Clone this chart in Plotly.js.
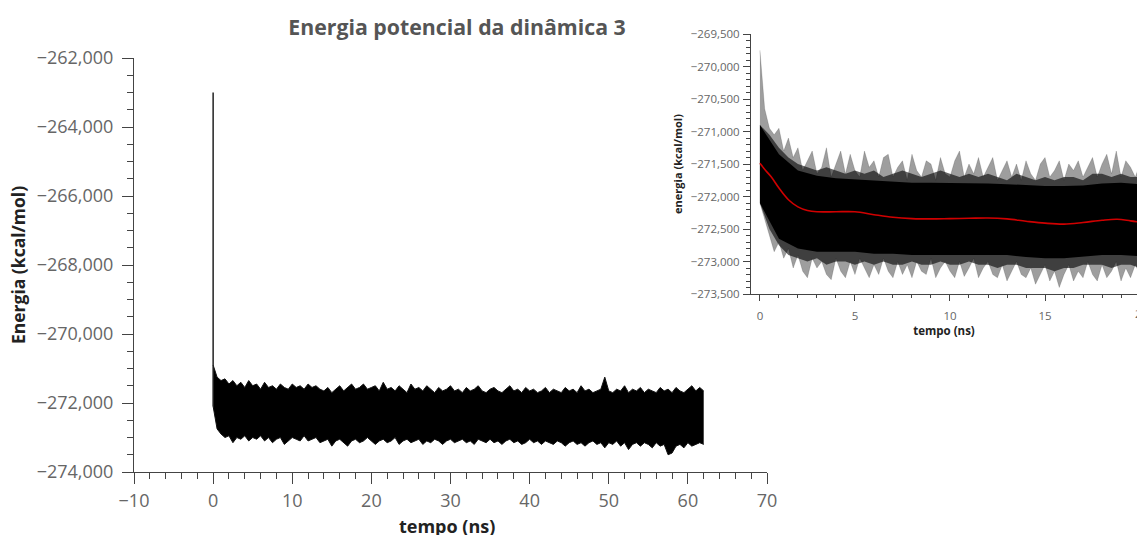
<!DOCTYPE html>
<html>
<head>
<meta charset="utf-8">
<script src="https://cdn.plot.ly/plotly-3.0.1.min.js"></script>
<style>html,body{margin:0;padding:0;background:#fff;}#chart{width:1137px;height:535px;}</style>
</head>
<body>
<div id="chart"></div>
<script>
// ---------- Main plot data (tempo in ns, energia in kcal/mol) ----------
const mainTime = [
  0,0.5,1,1.5,2,2.5,3,3.5,4,4.5,
  5,5.5,6,6.5,7,7.5,8,8.5,9,9.5,
  10,10.5,11,11.5,12,12.5,13,13.5,14,14.5,
  15,15.5,16,16.5,17,17.5,18,18.5,19,19.5,
  20,20.5,21,21.5,22,22.5,23,23.5,24,24.5,
  25,25.5,26,26.5,27,27.5,28,28.5,29,29.5,
  30,30.5,31,31.5,32,32.5,33,33.5,34,34.5,
  35,35.5,36,36.5,37,37.5,38,38.5,39,39.5,
  40,40.5,41,41.5,42,42.5,43,43.5,44,44.5,
  45,45.5,46,46.5,47,47.5,48,48.5,49,49.5,
  50,50.5,51,51.5,52,52.5,53,53.5,54,54.5,
  55,55.5,56,56.5,57,57.5,58,58.5,59,59.5,
  60,60.5,61,61.5,62
];
// upper envelope of the noisy energy band
const mainUpper = [
  -270900,-271250,-271350,-271300,-271450,-271350,-271500,-271400,-271550,-271350,
  -271500,-271450,-271600,-271400,-271550,-271500,-271600,-271450,-271550,-271600,
  -271450,-271550,-271500,-271600,-271450,-271550,-271500,-271600,-271650,-271550,
  -271700,-271600,-271500,-271650,-271550,-271450,-271600,-271550,-271450,-271600,
  -271550,-271500,-271650,-271400,-271600,-271550,-271650,-271500,-271600,-271700,
  -271450,-271600,-271550,-271650,-271500,-271600,-271700,-271550,-271650,-271600,
  -271500,-271650,-271600,-271700,-271550,-271650,-271600,-271500,-271650,-271700,
  -271600,-271550,-271650,-271700,-271600,-271500,-271650,-271600,-271700,-271550,
  -271650,-271600,-271700,-271650,-271550,-271700,-271600,-271650,-271700,-271550,
  -271650,-271600,-271700,-271500,-271650,-271600,-271700,-271650,-271600,-271250,
  -271650,-271700,-271600,-271650,-271500,-271700,-271600,-271650,-271550,-271700,
  -271600,-271650,-271700,-271550,-271650,-271600,-271700,-271550,-271650,-271700,
  -271600,-271500,-271650,-271550,-271650
];
// lower envelope of the noisy energy band
const mainLower = [
  -272100,-272750,-272900,-273000,-272950,-273150,-273000,-273050,-272950,-273100,
  -273000,-273050,-272950,-273100,-273000,-273150,-273050,-273000,-273200,-273100,
  -273000,-273050,-273100,-272950,-273100,-273050,-273000,-273150,-273100,-273050,
  -273250,-273100,-273050,-273150,-273250,-273100,-273050,-273150,-273100,-273000,
  -273100,-273200,-273100,-273050,-273150,-273100,-273000,-273200,-273100,-273050,
  -273150,-273100,-273050,-273200,-273100,-273150,-273050,-273100,-273200,-273100,
  -273050,-273150,-273100,-273050,-273150,-273100,-273200,-273050,-273100,-273150,
  -273050,-273150,-273100,-273200,-273100,-273050,-273150,-273100,-273200,-273150,
  -273050,-273150,-273100,-273200,-273100,-273150,-273200,-273100,-273150,-273250,
  -273150,-273100,-273200,-273150,-273250,-273150,-273100,-273200,-273150,-273300,
  -273150,-273200,-273100,-273250,-273150,-273350,-273200,-273150,-273250,-273150,
  -273200,-273300,-273150,-273250,-273200,-273500,-273450,-273250,-273200,-273300,
  -273150,-273250,-273200,-273150,-273200
];
// initial energy spike at t = 0
const spikeTime = [0, 0];
const spikeEnergy = [-272100, -263000];

// ---------- Inset data (first 20 ns) ----------
const insetTime = [
  0,0.25,0.5,0.75,1,1.25,1.5,1.75,
  2,2.25,2.5,2.75,3,3.25,3.5,3.75,
  4,4.25,4.5,4.75,5,5.25,5.5,5.75,
  6,6.25,6.5,6.75,7,7.25,7.5,7.75,
  8,8.25,8.5,8.75,9,9.25,9.5,9.75,
  10,10.25,10.5,10.75,11,11.25,11.5,11.75,
  12,12.25,12.5,12.75,13,13.25,13.5,13.75,
  14,14.25,14.5,14.75,15,15.25,15.5,15.75,
  16,16.25,16.5,16.75,17,17.25,17.5,17.75,
  18,18.25,18.5,18.75,19,19.25,19.5,19.75,
  20
];
// outer (extreme spikes) upper envelope
const insetUpper = [
  -269750,-270650,-270950,-271050,-270950,-271300,-271100,-271400,
  -271250,-271600,-271450,-271300,-271650,-271550,-271250,-271700,
  -271500,-271300,-271650,-271350,-271600,-271700,-271300,-271550,
  -271450,-271700,-271400,-271350,-271700,-271550,-271450,-271750,
  -271350,-271600,-271700,-271450,-271500,-271750,-271400,-271650,
  -271700,-271450,-271300,-271700,-271500,-271650,-271400,-271700,
  -271550,-271400,-271750,-271600,-271450,-271700,-271500,-271750,
  -271450,-271650,-271750,-271500,-271400,-271700,-271600,-271450,
  -271750,-271500,-271600,-271450,-271700,-271550,-271400,-271700,
  -271500,-271350,-271650,-271300,-271700,-271450,-271550,-271700,
  -271500
];
// outer (extreme spikes) lower envelope
const insetLower = [
  -272100,-272350,-272600,-272850,-272700,-272950,-272800,-273100,
  -272900,-273150,-273250,-272950,-273100,-273000,-273200,-273280,
  -272950,-273150,-273250,-273000,-273200,-272950,-273100,-273250,
  -273050,-273200,-272950,-273150,-273250,-273000,-273200,-273050,
  -273250,-273000,-273150,-273200,-272950,-273250,-273100,-273000,
  -273150,-273250,-273000,-273230,-273100,-272950,-273250,-273100,
  -273000,-273200,-273250,-273050,-273300,-273150,-273000,-273200,
  -273250,-273100,-273350,-273200,-273050,-273300,-273150,-273400,
  -273200,-273050,-273300,-273150,-273250,-273000,-273200,-273300,
  -273050,-273250,-273150,-273000,-273300,-273100,-273250,-273050,
  -273200
];
// intermediate density layer of the inset band
const midTime = [
  0,0.5,1,1.5,2,2.5,3,3.5,4,4.5,
  5,5.5,6,6.5,7,7.5,8,8.5,9,9.5,
  10,10.5,11,11.5,12,12.5,13,13.5,14,14.5,
  15,15.5,16,16.5,17,17.5,18,18.5,19,19.5,
  20
];
const midUpper = [
  -270900,-271050,-271250,-271400,-271500,-271550,-271600,-271550,-271600,-271650,
  -271600,-271650,-271600,-271700,-271650,-271600,-271650,-271700,-271650,-271600,
  -271650,-271700,-271650,-271700,-271650,-271700,-271750,-271650,-271700,-271750,
  -271700,-271750,-271700,-271700,-271750,-271650,-271650,-271700,-271650,-271700,
  -271700
];
const midLower = [
  -272100,-272500,-272750,-272900,-272950,-273000,-272950,-273050,-273000,-273000,
  -273050,-273000,-273050,-273000,-273050,-273050,-273000,-273050,-273050,-273000,
  -273050,-273050,-273000,-273050,-273050,-273100,-273050,-273050,-273100,-273100,
  -273100,-273150,-273100,-273100,-273050,-273050,-273050,-273100,-273050,-273050,
  -273100
];
// dense core of the inset band
const coreTime = [0,1,2,3,4,5,6,7,8,9,10,11,12,13,14,15,16,17,18,19,20];
const coreUpper = [
  -270900,-271350,-271600,-271680,-271720,-271740,-271760,-271770,-271790,-271790,
  -271790,-271790,-271800,-271810,-271830,-271840,-271840,-271830,-271800,-271790,
  -271810
];
const coreLower = [
  -272100,-272650,-272800,-272850,-272850,-272850,-272880,-272880,-272900,-272900,
  -272900,-272900,-272900,-272900,-272930,-272950,-272950,-272930,-272900,-272900,
  -272920
];
// smoothed (red) curve
const smoothTime = [0,0.3,0.6,1,1.5,2,2.5,3,4,5,6,7,8,9,10,11,12,13,14,15,16,17,18,18.8,19.5,20];
const smoothEnergy = [
  -271490,-271600,-271700,-271870,-272050,-272160,-272215,-272235,-272235,-272235,
  -272280,-272320,-272340,-272345,-272340,-272335,-272330,-272345,-272380,-272410,
  -272425,-272400,-272365,-272350,-272375,-272395
];

// ---------- Text ----------
const chartTitle = 'Energia potencial da dinâmica 3';
const mainXTitle = 'tempo (ns)';
const mainYTitle = 'Energia (kcal/mol)';
const insetXTitle = 'tempo (ns)';
const insetYTitle = 'energia (kcal/mol)';

// ---------- Build ----------
const FONT = 'Open Sans, Noto Sans, sans-serif';
const W = 1137, H = 535;
const px = v => v / W;          // horizontal pixel -> paper
const py = v => 1 - v / H;      // vertical pixel -> paper

function band(t, lo, hi, xa, ya, fillcolor, lw, lc) {
  return [
    {x: t, y: lo, type: 'scatter', mode: 'lines', xaxis: xa, yaxis: ya,
     line: {color: lc, width: lw}, hoverinfo: 'skip', showlegend: false},
    {x: t, y: hi, type: 'scatter', mode: 'lines', xaxis: xa, yaxis: ya,
     fill: 'tonexty', fillcolor: fillcolor, line: {color: lc, width: lw},
     hoverinfo: 'skip', showlegend: false}
  ];
}

const traces = [].concat(
  band(mainTime, mainLower, mainUpper, 'x', 'y', '#000', 1, '#111'),
  [{x: spikeTime, y: spikeEnergy, type: 'scatter', mode: 'lines', xaxis: 'x', yaxis: 'y',
    line: {color: '#222', width: 1.5}, showlegend: false}],
  band(insetTime, insetLower, insetUpper, 'x2', 'y2', 'rgba(0,0,0,0.38)', 0.5, 'rgba(0,0,0,0.3)'),
  band(midTime, midLower, midUpper, 'x2', 'y2', 'rgba(0,0,0,0.6)', 0, 'rgba(0,0,0,0)'),
  band(coreTime, coreLower, coreUpper, 'x2', 'y2', '#000', 0, 'rgba(0,0,0,0)'),
  [{x: smoothTime, y: smoothEnergy, type: 'scatter', mode: 'lines', xaxis: 'x2', yaxis: 'y2',
    line: {color: '#d00000', width: 1.6, shape: 'spline'}, showlegend: false}]
);

const axCommon = {
  showline: true, linecolor: '#444', linewidth: 1, showgrid: false, zeroline: false,
  ticks: 'outside', tickcolor: '#444', tickwidth: 1, fixedrange: true
};

const layout = {
  width: W, height: H,
  margin: {l: 0, r: 0, t: 0, b: 0},
  paper_bgcolor: '#fff', plot_bgcolor: 'rgba(0,0,0,0)',
  showlegend: false,
  title: {text: chartTitle, x: px(457), xanchor: 'center', xref: 'paper',
          y: py(28), yanchor: 'middle', yref: 'paper',
          font: {family: FONT, size: 21.3, color: '#555', weight: 700}},
  xaxis: Object.assign({}, axCommon, {
    domain: [px(134), px(767)], range: [-10, 70], anchor: 'y',
    dtick: 10, tick0: 0, ticklen: 11,
    minor: {dtick: 2, tick0: 0, ticklen: 6, ticks: 'outside', tickcolor: '#444', showgrid: false},
    tickfont: {family: FONT, size: 18, color: '#666'}, ticklabelstandoff: 1
  }),
  yaxis: Object.assign({}, axCommon, {
    domain: [py(472), py(58)], range: [-274000, -262000], anchor: 'x',
    dtick: 2000, tick0: 0, ticklen: 11, tickformat: ',',
    minor: {dtick: 500, tick0: 0, ticklen: 6, ticks: 'outside', tickcolor: '#444', showgrid: false},
    tickfont: {family: FONT, size: 18, color: '#666'}, ticklabelstandoff: 5,
    title: {text: mainYTitle, standoff: 6, font: {family: FONT, size: 17.5, color: '#222', weight: 700}}
  }),
  xaxis2: Object.assign({}, axCommon, {
    domain: [px(751), 1], range: [-0.47, 19.84], anchor: 'y2',
    dtick: 5, tick0: 0, ticklen: 6,
    minor: {dtick: 1, tick0: 0, ticklen: 3, ticks: 'outside', tickcolor: '#444', showgrid: false},
    tickfont: {family: FONT, size: 11.5, color: '#666'}, ticklabelstandoff: 5,
    title: {text: insetXTitle, standoff: 1, font: {family: FONT, size: 11.5, color: '#222', weight: 700}}
  }),
  yaxis2: Object.assign({}, axCommon, {
    domain: [py(294), py(34)], range: [-273500, -269500], anchor: 'x2',
    dtick: 500, tick0: 0, ticklen: 7, tickformat: ',',
    minor: {dtick: 100, tick0: 0, ticklen: 4, ticks: 'outside', tickcolor: '#444', showgrid: false},
    tickfont: {family: FONT, size: 11.5, color: '#666'}, ticklabelstandoff: 1,
    title: {text: insetYTitle, standoff: 5, font: {family: FONT, size: 11, color: '#222', weight: 700}}
  }),
  annotations: [
    // main x-axis title (placed like the reference, at the bottom edge)
    {xref: 'paper', yref: 'paper', x: px(447), y: py(526), text: mainXTitle, showarrow: false,
     xanchor: 'center', yanchor: 'middle',
     font: {family: FONT, size: 18, color: '#222', weight: 700}},
    // partially visible "20" tick label of the inset
    {xref: 'paper', yref: 'paper', x: px(1141), y: py(313), text: '20', showarrow: false,
     xanchor: 'center', yanchor: 'middle', font: {family: FONT, size: 11.5, color: '#666'}}
  ]
};

Plotly.newPlot('chart', traces, layout, {displayModeBar: false, staticPlot: true});
</script>
</body>
</html>
